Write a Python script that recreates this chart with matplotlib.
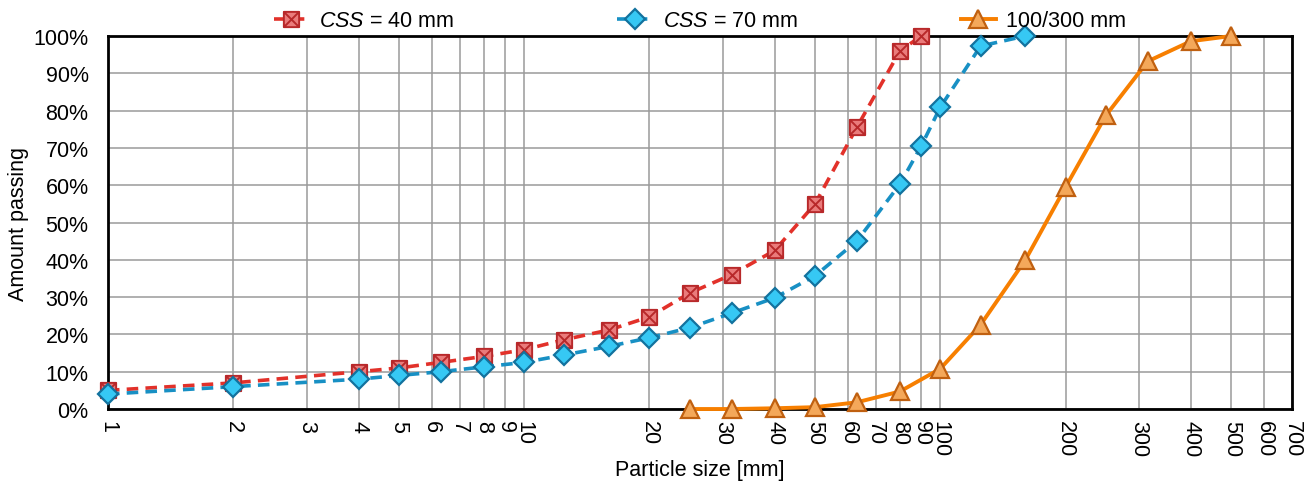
import matplotlib
matplotlib.use("Agg")
import matplotlib.pyplot as plt
from matplotlib.path import Path
from matplotlib.ticker import FixedLocator, FixedFormatter, NullLocator, PercentFormatter

plt.rcParams['font.family'] = ['Liberation Sans', 'DejaVu Sans']
plt.rcParams['mathtext.fontset'] = 'custom'
plt.rcParams['mathtext.rm'] = 'Liberation Sans'
plt.rcParams['mathtext.it'] = 'Liberation Sans:italic'

# Particle size distributions (cumulative % passing)
size_css40 = [1, 2, 4, 5, 6.3, 8, 10, 12.5, 16, 20, 25, 31.5, 40, 50, 63, 80, 90]
pass_css40 = [5.0, 7.0, 10.0, 11.0, 12.5, 14.1, 15.9, 18.6, 21.2, 24.7, 31.1, 36.0, 42.5, 55.0, 75.5, 96.0, 100.0]

size_css70 = [1, 2, 4, 5, 6.3, 8, 10, 12.5, 16, 20, 25, 31.5, 40, 50, 63, 80, 90, 100, 125, 160]
pass_css70 = [4.0, 6.0, 8.0, 9.0, 10.0, 11.3, 12.5, 14.5, 16.8, 19.1, 21.8, 25.7, 29.8, 35.7, 45.0, 60.3, 70.5, 80.9, 97.3, 100.0]

size_feed = [25, 31.5, 40, 50, 63, 80, 100, 125, 160, 200, 250, 315, 400, 500]
pass_feed = [0.0, 0.0, 0.2, 0.5, 1.8, 4.7, 10.8, 22.6, 39.9, 59.5, 78.7, 93.2, 98.6, 100.0]

labels = ["$\\mathit{CSS}$ = 40 mm", "$\\mathit{CSS}$ = 70 mm", "100/300 mm"]

x_ticks = [1, 2, 3, 4, 5, 6, 7, 8, 9, 10, 20, 30, 40, 50, 60, 70, 80, 90,
           100, 200, 300, 400, 500, 600, 700]
y_ticks = [0, 10, 20, 30, 40, 50, 60, 70, 80, 90, 100]

# square with a cross inside
box_x = Path([(-1, -1), (1, -1), (1, 1), (-1, 1), (-1, -1),
              (-1, -1), (1, 1), (-1, 1), (1, -1)],
             [Path.MOVETO, Path.LINETO, Path.LINETO, Path.LINETO, Path.CLOSEPOLY,
              Path.MOVETO, Path.LINETO, Path.MOVETO, Path.LINETO])

fig = plt.figure(figsize=(13.15, 4.85), dpi=100)
ax = fig.add_axes([0.0821, 0.1546, 0.9004, 0.7691])

ax.plot(size_css40, pass_css40, color='#e2312a', lw=2.6, ls=(0, (3.2, 2.0)),
        marker=box_x, ms=11, mfc='#ea7b7b', mec='#b8282a', mew=1.4,
        label=labels[0], clip_on=False, zorder=4)
ax.plot(size_css70, pass_css70, color='#1890c4', lw=2.6, ls=(0, (3.2, 2.0)),
        marker='D', ms=10, mfc='#36c8f4', mec='#12729e', mew=1.6,
        label=labels[1], clip_on=False, zorder=4)
ax.plot(size_feed, pass_feed, color='#f77f00', lw=2.8, ls='-',
        marker='^', ms=13, mfc='#f4a85a', mec='#c06010', mew=1.6,
        label=labels[2], clip_on=False, zorder=4)

ax.set_xscale('log')
ax.set_xlim(1, 700)
ax.set_ylim(0, 100)
ax.xaxis.set_major_locator(FixedLocator(x_ticks))
ax.xaxis.set_major_formatter(FixedFormatter([str(v) for v in x_ticks]))
ax.xaxis.set_minor_locator(NullLocator())
ax.yaxis.set_major_locator(FixedLocator(y_ticks))
ax.yaxis.set_major_formatter(PercentFormatter(decimals=0))

ax.grid(True, which='major', color='#9a9a9a', lw=1.1)
ax.set_axisbelow(True)
for s in ax.spines.values():
    s.set_color('black')
    s.set_linewidth(2.0)

ax.tick_params(axis='x', length=0, pad=8, labelsize=15.5, labelrotation=-90)
ax.tick_params(axis='y', length=0, pad=14, labelsize=15.5)
for t in ax.get_xticklabels():
    t.set_va('top')
    t.set_ha('center')

ax.set_xlabel('Particle size [mm]', fontsize=15.5, labelpad=2)
ax.set_ylabel('Amount passing', fontsize=15.5, labelpad=3)

leg = ax.legend(loc='lower center', bbox_to_anchor=(0.5, 0.99), ncol=3,
                frameon=False, fontsize=15.5, handlelength=1.6,
                columnspacing=7.6, handletextpad=0.5, borderaxespad=0.0)

fig.savefig('out.png', dpi=100)
